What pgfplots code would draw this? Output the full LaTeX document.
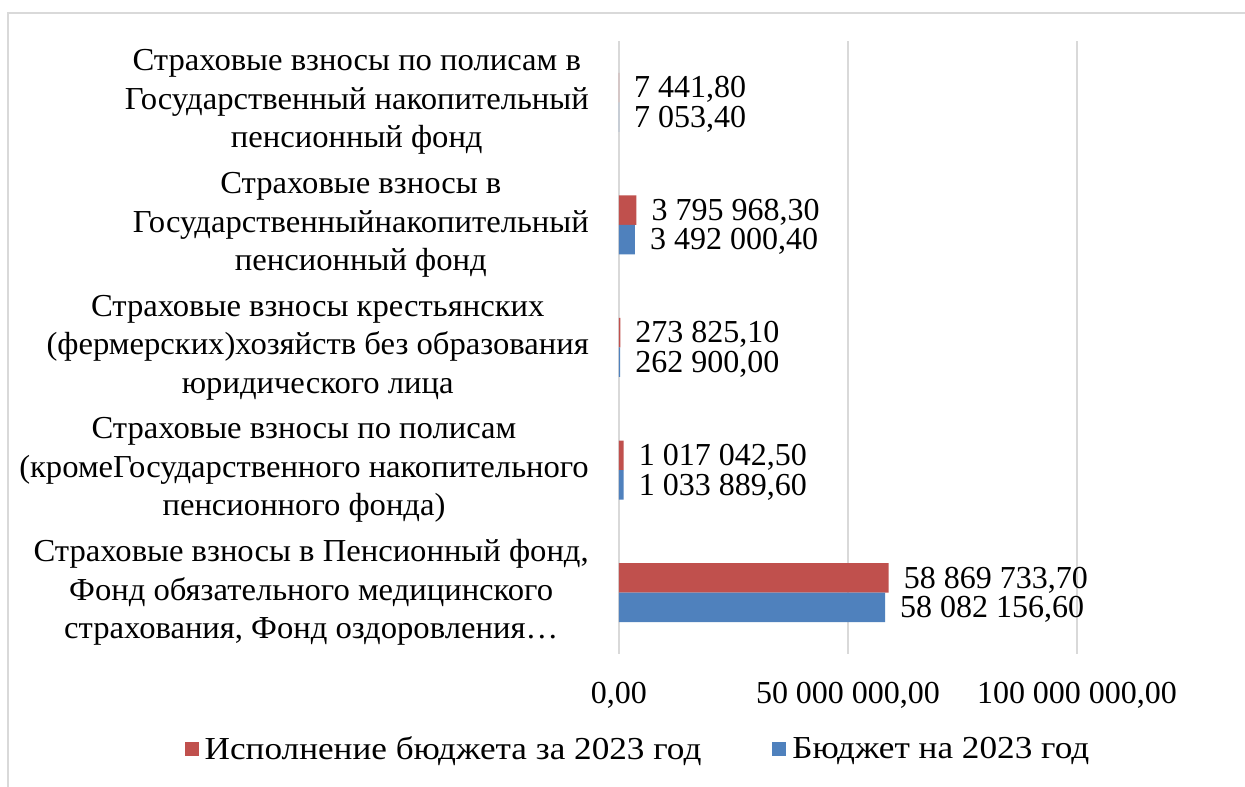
\documentclass[border=0pt]{standalone}
\usepackage{fontspec}
\setmainfont{Liberation Serif}
\newfontfamily\labfont[FakeStretch=1.02]{Liberation Serif}
\newfontfamily\legfont[FakeStretch=1.1]{Liberation Serif}
\usepackage{pgfplots}
\pgfplotsset{compat=1.18}
\definecolor{cred}{HTML}{C0504D}
\definecolor{cblue}{HTML}{4F81BD}
\definecolor{cgrid}{HTML}{D9D9D9}
\begin{document}
\begin{tikzpicture}
\path[use as bounding box] (0,0) rectangle (1245pt,787pt);
\fill[white] (0,0) rectangle (1245pt,787pt);
\draw[cgrid, line width=1.5pt] (8pt,0) -- (8pt,774pt) -- (1245pt,774pt);
\begin{axis}[
  at={(619pt,133pt)}, anchor=south west,
  scale only axis, width=626pt, height=613pt,
  xbar, bar width=29.5pt,
  xmin=0, xmax=136.68e6,
  ymin=-0.5, ymax=4.5,
  scaled x ticks=false,
  axis line style={draw=none},
  tick style={draw=none}, major tick length=0pt,
  xtick={0,50000000,100000000},
  xticklabels={{0,00},{50 000 000,00},{100 000 000,00}},
  ytick={0,1,2,3,4},
  yticklabels={
    {Страховые взносы в Пенсионный фонд,\\Фонд обязательного медицинского\\страхования, Фонд оздоровления…},
    {Страховые взносы по полисам\\(кромеГосударственного накопительного\\пенсионного фонда)},
    {Страховые взносы крестьянских\\(фермерских)хозяйств без образования\\юридического лица},
    {Страховые взносы в\\Государственныйнакопительный\\пенсионный фонд},
    {Страховые взносы по полисам в\\Государственный накопительный\\пенсионный фонд}},
  xmajorgrids, major grid style={cgrid, line width=1.5pt},
  xticklabel style={font=\fontsize{32}{38}\selectfont, anchor=base, yshift=-50pt, inner sep=0pt},
  yticklabel style={font=\labfont\fontsize{32}{38.5}\selectfont, align=center, anchor=east, inner sep=0pt, xshift=-30pt},
  nodes near coords, point meta=explicit symbolic,
  every node near coord/.append style={font=\fontsize{32}{38}\selectfont, anchor=west, inner sep=0pt, xshift=15pt, yshift=-2pt, text=black},
  clip=false,
  legend style={at={(0.0335,-0.155)}, anchor=center, draw=none, fill=none, legend columns=2,
    font=\legfont\fontsize{32}{38}\selectfont,
    nodes={inner xsep=6pt},
    /tikz/every even column/.append style={column sep=65pt}},
  legend image code/.code={\fill[#1] (0pt,-7pt) rectangle (14pt,7pt);},
]
\addplot[fill=cred, draw=none, bar shift=14.75pt] coordinates {
  (58869733.7,0) [58 869 733,70]
  (1017042.5,1) [1 017 042,50]
  (273825.1,2) [273 825,10]
  (3795968.3,3) [3 795 968,30]
  (7441.8,4) [7 441,80]
};
\addplot[fill=cblue, draw=none, bar shift=-14.75pt] coordinates {
  (58082156.6,0) [58 082 156,60]
  (1033889.6,1) [1 033 889,60]
  (262900.0,2) [262 900,00]
  (3492000.4,3) [3 492 000,40]
  (7053.4,4) [7 053,40]
};
\legend{Исполнение бюджета за 2023 год, Бюджет на 2023 год}
\end{axis}
\end{tikzpicture}
\end{document}
